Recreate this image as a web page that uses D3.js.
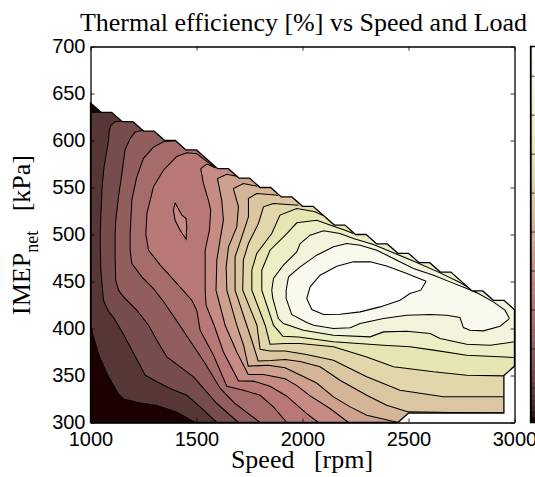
<!DOCTYPE html>
<html><head><meta charset="utf-8">
<script src="https://d3js.org/d3.v7.min.js"></script>
<style>html,body{margin:0;padding:0;background:#fff;overflow:hidden}svg{display:block}text{white-space:pre}</style>
</head><body>
<script>
// Data: [speed rpm, IMEP kPa]
const speedTicks=[1000,1500,2000,2500,3000];
const imepTicks=[300,350,400,450,500,550,600,650,700];
const barTicks=[28,30,32,34,36,38,40,42,44];
const barDomain=[26.2,45.5];
const validRegion=[[1000,640],[1050,630],[1100,630],[1150,620],[1200,620],[1250,610],[1300,610],[1350,600],[1400,600],[1450,590],[1500,590],[1600,570],[1650,570],[1700,560],[1750,560],[1800,550],[1850,550],[1900,540],[1950,540],[2000,530],[2050,530],[2150,510],[2200,510],[2250,500],[2300,500],[2350,490],[2400,490],[2450,480],[2500,480],[2550,470],[2600,470],[2650,460],[2700,460],[2800,440],[2850,440],[2900,430],[2950,430],[3000,420],[3000,360],[2950,350],[2950,310],[2500,310],[2450,300],[1000,300]];
const line1=[[1050,630],[1000,630],[1000,402],[1038,373],[1077,352],[1129,331],[1156,325],[1226,321],[1313,318],[1407,311],[1494,300]];
const line2=[[1148,620.6],[1116,620],[1096,616],[1088,610],[1085,600],[1064,572],[1055,551],[1049,522],[1046,500],[1046,487],[1049,462],[1061,430],[1085,418],[1108,412],[1140,400],[1187,380.5],[1258,350.4],[1313,343.3],[1376,336.2],[1454,329],[1517,316.7],[1596,300]];
const line3=[[1245,610.6],[1211,609],[1187,602],[1163,590],[1148,565],[1132,540],[1119,515],[1116,500],[1116,476],[1119,451.4],[1132,440.8],[1156,433.7],[1218,419.5],[1274,403.5],[1313,387.6],[1360,369.8],[1423,359.2],[1486,348.6],[1596,320.2],[1698,300]];
const line4=[[1399,600],[1344,598.6],[1297,593],[1250,581],[1218,561],[1195,536.5],[1187,500],[1187,483.3],[1195,469],[1242,455],[1297,442.5],[1351,426.6],[1415,405.3],[1478,384],[1541,362.8],[1612,336.2],[1682,320.2],[1800,300]];
const line5=[[1588,571],[1501,586],[1454,587],[1407,583],[1344,568.4],[1297,550.7],[1266,522.3],[1261,500],[1274,483.3],[1329,467.4],[1407,447.9],[1478,430.1],[1501,419.5],[1517,398.2],[1580,371.6],[1643,338.6],[1722,334.4],[1800,329],[1863,316.6],[1926,300]];
const line6=[[1590,571],[1549,575],[1520,570],[1533,554],[1556,536.5],[1567,526],[1561,504.6],[1541,483.3],[1541,465.6],[1541,440.8],[1545,424.8],[1583,403.5],[1627,375],[1698,344.3],[1769,344],[1847,338.6],[1926,328],[2020,309.5],[2075,300]];
const line7=[[1690,562],[1643,564],[1599,559.6],[1619,536.5],[1627,515.2],[1611,494],[1596,472.7],[1592,440.8],[1635,403.5],[1690,375],[1744,351],[1816,351],[1918,346.5],[1975,339],[2036,328.3],[2130,314.9],[2217,300]];
const line8=[[1787,551.4],[1721,554.2],[1674,548.9],[1698,529.4],[1690,508.1],[1651,486.9],[1640,465.6],[1643,440.8],[1690,403.5],[1722,382.2],[1744,360],[1838,360.8],[1918,358.3],[1989,350.5],[2067,342],[2146,327.3],[2225,316.6],[2303,307.8],[2452,300]];
const line9=[[1886,541.8],[1784,543.6],[1745,538.3],[1745,518.8],[1714,497.5],[1682,476.2],[1682,440.8],[1737,403.5],[1760,388],[1791,365.5],[1850,366],[1918,367],[1989,365],[2083,359.2],[2177,345],[2303,329],[2397,318.4],[2500,311.3],[2696,310.6],[2952,310.3]];
const line10=[[1981,531.2],[1863,533],[1816,529.4],[1792,511.7],[1745,490.4],[1721,472.7],[1718,440.8],[1785,403.5],[1800,378],[1847,376],[1918,376],[2012,372.5],[2146,366.3],[2303,348.6],[2460,334.4],[2665,327.3],[2952,327.3]];
const line11=[[2099,519.8],[2059,524.1],[1973,527.6],[1894,520.6],[1855,501],[1784,479.8],[1761,462],[1761,440.8],[1824,403.5],[1847,383.3],[1918,384],[1989,384],[2146,380.5],[2303,369.8],[2429,359.2],[2618,353.9],[2775,350.3],[2952,349.6]];
const line12=[[2240,501],[2201,504.6],[2146,508.8],[2067,515.2],[1973,512.4],[1926,501],[1847,483.3],[1808,462],[1808,440.8],[1863,403.5],[1907,391.8],[1981,391],[2146,385.8],[2382,382.2],[2507,380.5],[2618,377],[2775,371.6],[3000,369.1]];
const line13=[[2822,438.3],[2743,448.9],[2649,459.2],[2539,470.2],[2445,479.1],[2335,489.3],[2240,495.7],[2177,501],[2099,503.9],[2036,499.3],[1989,490.4],[1973,481.5],[1910,467.4],[1863,453.2],[1855,440.8],[1860,431.9],[1886,410.6],[1910,405.3],[2004,398.2],[2146,392.9],[2319,391.1],[2382,396.4],[2492,397.1],[2602,394.7],[2649,389.3],[2775,383.3],[2885,382.2],[3000,385.8]];
const line14=[[2976,410.6],[2955,419.5],[2900,428.3],[2830,437.2],[2775,442.5],[2696,449.6],[2618,456.7],[2523,463.8],[2445,472.7],[2350,483.3],[2272,488.6],[2209,490.4],[2146,486.9],[2067,478],[1989,465.6],[1934,454.9],[1923,440.8],[1923,431.9],[1949,414.9],[2020,406.4],[2052,403.5],[2146,400],[2225,400.7],[2272,405.3],[2382,410.6],[2492,414.2],[2602,414.9],[2680,414.2],[2743,411.7],[2759,401],[2790,398.2],[2853,397.5],[2932,402.5],[2976,410.6]];
const line15=[[2583,450.3],[2558,440.8],[2507,437.2],[2460,430.1],[2366,423],[2272,417.7],[2177,415.2],[2099,414.9],[2044,420.2],[2020,431.9],[2036,444.3],[2083,456.7],[2162,466.3],[2240,470.9],[2319,470.9],[2397,466.6],[2492,458.5],[2583,450.3]];
const island=[[1399,533.7],[1391,525.9],[1399,515.2],[1423,504.6],[1451,495],[1454,508],[1451,517],[1431,520.6],[1399,533.7]];
const openLines=[line1,line2,line3,line4,line5,line6,line7,line8,line9,line10,line11,line12,line13];
const closedLines=[{band:14,pts:line14},{band:15,pts:line15},{band:6,pts:island}];
const bandCount=16;

// matplotlib "pink" colormap
function pink(t){
  const hr=Math.min(1,0.0416+(1-0.0416)*t/0.365079);
  const hg=Math.max(0,Math.min(1,(t-0.365079)/(0.746032-0.365079)));
  const hb=Math.max(0,Math.min(1,(t-0.746032)/(1-0.746032)));
  const f=h=>Math.round(255*Math.sqrt((2*t+h)/3));
  return d3.rgb(f(hr),f(hg),f(hb)).formatHex();
}
const W=535,H=477;
const x=d3.scaleLinear().domain([1000,3000]).range([90.5,514.5]);
const y=d3.scaleLinear().domain([300,700]).range([422.5,46.5]);
const svg=d3.select("body").append("svg").attr("width",W).attr("height",H);
const toPath=d3.line().x(d=>x(d[0])).y(d=>y(d[1])).curve(d3.curveLinear);
svg.append("clipPath").attr("id","valid").append("path").attr("d",toPath(validRegion)+"Z");
const plot=svg.append("g").attr("clip-path","url(#valid)");
plot.append("path").attr("d",toPath(validRegion)+"Z").attr("fill",pink(0));
openLines.forEach((pts,i)=>{
  const last=pts[pts.length-1], first=pts[0];
  const closure=(last[1]<=301?[[3100,290]]:[[3100,last[1]]]).concat([[3100,720],[first[0],720]]);
  plot.append("path").attr("d",toPath(pts.concat(closure))+"Z").attr("fill",pink((i+1)/(bandCount-1)));
});
closedLines.forEach(c=>plot.append("path").attr("d",toPath(c.pts)+"Z").attr("fill",pink(c.band/(bandCount-1))));
const lineWidth=1.05;
openLines.concat(closedLines.map(c=>c.pts)).forEach(pts=>{
  plot.append("path").attr("d",toPath(pts)).attr("fill","none").attr("stroke","#000").attr("stroke-width",lineWidth);
});
svg.append("path").attr("d",toPath(validRegion)+"Z").attr("fill","none").attr("stroke","#000").attr("stroke-width",1.3);

// axes
const tickFont='"Liberation Sans",Arial,sans-serif', serif='"Liberation Serif","Times New Roman",serif';
function style(g){g.selectAll("path.domain").attr("stroke","#000").attr("stroke-width",1.3);g.selectAll("line").attr("stroke","#000").attr("stroke-width",0.8);g.selectAll("text").attr("font-family",tickFont).attr("font-size",20).attr("fill","#000");}
svg.append("g").attr("transform",`translate(0,${y(300)})`).call(d3.axisBottom(x).tickValues(speedTicks).tickSize(-4).tickSizeOuter(0).tickPadding(9).tickFormat(d3.format("d"))).call(style);
svg.append("g").attr("transform",`translate(0,${y(700)})`).call(d3.axisTop(x).tickValues(speedTicks).tickSize(-4).tickSizeOuter(0).tickFormat("")).call(style);
svg.append("g").attr("transform",`translate(${x(1000)},0)`).call(d3.axisLeft(y).tickValues(imepTicks).tickSize(-4).tickSizeOuter(0).tickPadding(5).tickFormat(d3.format("d"))).call(style);
svg.append("g").attr("transform",`translate(${x(3000)},0)`).call(d3.axisRight(y).tickValues(imepTicks).tickSize(-4).tickSizeOuter(0).tickFormat("")).call(style);

// colorbar
const cb=d3.scaleLinear().domain(barDomain).range([422.5,46.5]);
const cbX=530.5, cbSteps=64;
const stepValue=(barDomain[1]-barDomain[0])/cbSteps;
svg.append("g").selectAll("rect").data(d3.range(cbSteps)).join("rect")
  .attr("x",cbX).attr("width",20)
  .attr("y",i=>cb(barDomain[0]+(i+1)*stepValue)).attr("height",i=>cb(barDomain[0]+i*stepValue)-cb(barDomain[0]+(i+1)*stepValue)+0.5)
  .attr("fill",i=>pink(i/(cbSteps-1)));
svg.append("g").attr("transform",`translate(${cbX},0)`).call(d3.axisLeft(cb).tickValues(barTicks).tickSize(-4).tickSizeOuter(0).tickFormat("")).call(style);
svg.append("path").attr("d",`M${W+5},${cb.range()[1]}H${cbX}V${cb.range()[0]}H${W+5}`).attr("fill","none").attr("stroke","#000").attr("stroke-width",1.3);

// text
svg.append("text").attr("x",303.5).attr("y",31).attr("text-anchor","middle").attr("font-family",serif).attr("font-size",26).text("Thermal efficiency [%] vs Speed and Load");
svg.append("text").attr("x",302).attr("y",468).attr("text-anchor","middle").attr("font-family",serif).attr("font-size",26).text("Speed   [rpm]");
const yl=svg.append("text").attr("transform","translate(30,235) rotate(-90)").attr("text-anchor","middle").attr("font-family",serif).attr("font-size",26);
yl.append("tspan").text("IMEP");
yl.append("tspan").attr("dy",8).attr("font-size",18).text("net");
yl.append("tspan").attr("dy",-8).text("   [kPa]");
</script>
</body></html>
